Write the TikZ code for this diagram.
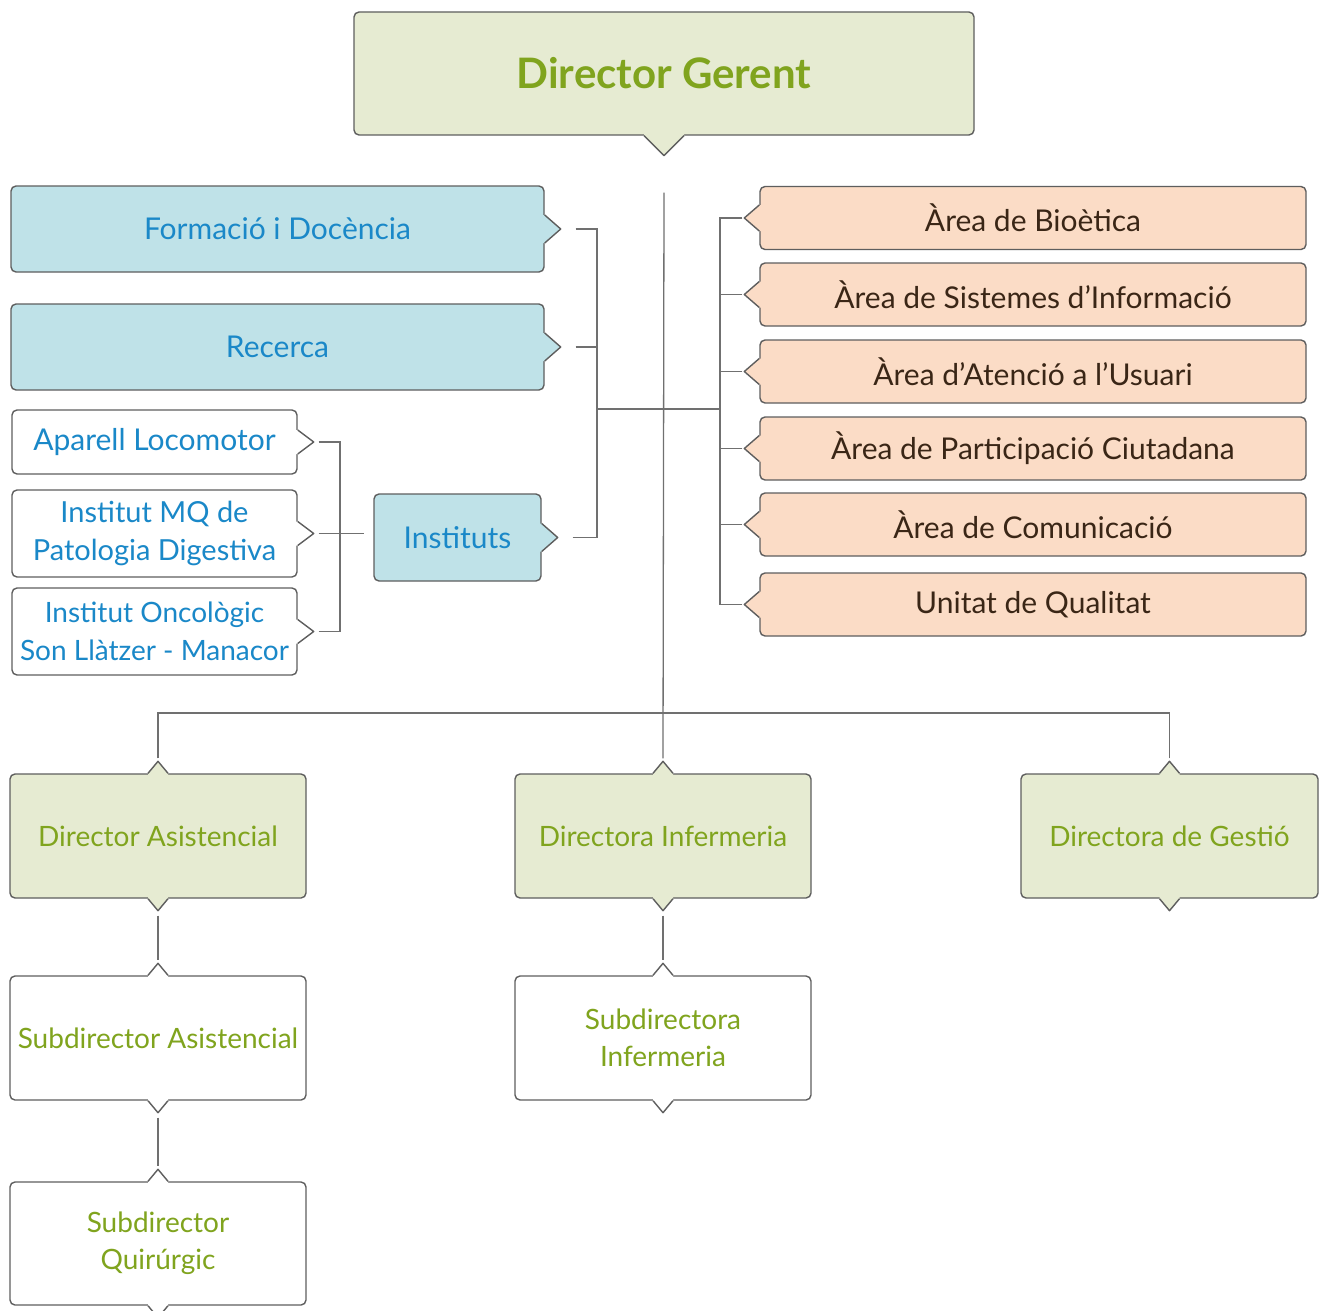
\documentclass[tikz,border=0pt]{standalone}
\usepackage{fontspec}
\setmainfont{Lato}
\usetikzlibrary{calc}
\definecolor{bordercol}{HTML}{5E5E5E}
\definecolor{conncol}{HTML}{707070}
\definecolor{gfill}{HTML}{E6EBD2}
\definecolor{bfill}{HTML}{BFE2E8}
\definecolor{ofill}{HTML}{FBDCC6}
\definecolor{gtext}{HTML}{80A41E}
\definecolor{btext}{HTML}{1A88C8}
\definecolor{otext}{HTML}{3A2616}
\tikzset{
  boxline/.style={draw=bordercol, line width=1.4pt, line join=round},
  orgbox/.style={boxline, rounded corners=5pt, inner sep=0pt, align=center,
    font=\fontsize{30}{38}\selectfont},
  greenbox/.style={orgbox, fill=gfill, text=gtext, font=\fontsize{28}{37}\selectfont},
  bluebox/.style={orgbox, fill=bfill, text=btext},
  orangebox/.style={orgbox, fill=ofill, text=otext, minimum width=546pt, minimum height=63pt},
  whitebox/.style={orgbox, fill=white, text=btext},
  subbox/.style={orgbox, fill=white, text=gtext, font=\fontsize{28}{37}\selectfont},
  conn/.style={draw=conncol, line width=1.3pt},
}
\newcommand{\notchat}[6]{%
  \begin{scope}[shift={(#1)},rotate=#2]
    \fill[#3] (-2.5,-#4) -- (0,-#4) -- (#5,0) -- (0,#4) -- (-2.5,#4) -- cycle;
    \draw[boxline] (0,-#4) -- (#5,0) -- (0,#4);
    \coordinate (#6) at (#5,0);
  \end{scope}}
\begin{document}
\begin{tikzpicture}[x=1pt,y=-1pt]
\useasboundingbox[fill=white] (0,0) rectangle (1323,1311);

% top
\node[greenbox, minimum width=620pt, minimum height=123pt,
  font=\fontsize{42}{46}\selectfont\bfseries] (dg) at (664,73.5) {Director Gerent};
\notchat{dg.south}{270}{gfill}{20}{20}{dgB}

% blue
\node[bluebox, minimum width=533pt, minimum height=86pt] (fd) at (277.5,229) {Formació i Docència};
\notchat{fd.east}{0}{bfill}{14}{16}{fdT}
\node[bluebox, minimum width=533pt, minimum height=86pt] (rec) at (277.5,347) {Recerca};
\notchat{rec.east}{0}{bfill}{14}{16}{recT}
\node[bluebox, minimum width=167pt, minimum height=87pt] (inst) at (457.5,537.5) {Instituts};
\notchat{inst.east}{0}{bfill}{14}{16}{instT}

% white institutes
\node[whitebox, minimum width=285pt, minimum height=64pt] (apl) at (154.5,442) {Aparell Locomotor};
\notchat{apl.east}{0}{white}{12}{16}{aplT}
\node[whitebox, minimum width=285pt, minimum height=87pt, font=\fontsize{29}{38}\selectfont] (mq) at (154.5,533.5) {Institut MQ de\\Patologia Digestiva};
\notchat{mq.east}{0}{white}{12}{16}{mqT}
\node[whitebox, minimum width=285pt, minimum height=87pt, font=\fontsize{28}{38}\selectfont] (onc) at (154.5,631.5) {Institut Oncològic\\Son Llàtzer - Manacor};
\notchat{onc.east}{0}{white}{12}{16}{oncT}

% orange
\node[orangebox] (o1) at (1033,218) {Àrea de Bioètica};
\notchat{o1.west}{180}{ofill}{13}{15}{o1T}
\node[orangebox] (o2) at (1033,294.5) {Àrea de Sistemes d’Informació};
\notchat{o2.west}{180}{ofill}{13}{15}{o2T}
\node[orangebox] (o3) at (1033,371.5) {Àrea d’Atenció a l’Usuari};
\notchat{o3.west}{180}{ofill}{13}{15}{o3T}
\node[orangebox] (o4) at (1033,448.5) {Àrea de Participació Ciutadana};
\notchat{o4.west}{180}{ofill}{13}{15}{o4T}
\node[orangebox] (o5) at (1033,524.5) {Àrea de Comunicació};
\notchat{o5.west}{180}{ofill}{13}{15}{o5T}
\node[orangebox] (o6) at (1033,604.5) {Unitat de Qualitat};
\notchat{o6.west}{180}{ofill}{13}{15}{o6T}

% directors
\node[greenbox, minimum width=296pt, minimum height=124pt] (da) at (158,836) {Director Asistencial};
\notchat{da.north}{90}{gfill}{10}{12}{daU}
\notchat{da.south}{270}{gfill}{10}{12}{daD}
\node[greenbox, minimum width=296pt, minimum height=124pt] (di) at (663,836) {Directora Infermeria};
\notchat{di.north}{90}{gfill}{10}{12}{diU}
\notchat{di.south}{270}{gfill}{10}{12}{diD}
\node[greenbox, minimum width=297pt, minimum height=124pt] (dgs) at (1169.5,836) {Directora de Gestió};
\notchat{dgs.north}{90}{gfill}{10}{12}{dgsU}
\notchat{dgs.south}{270}{gfill}{10}{12}{dgsD}

% sub directors
\node[subbox, minimum width=296pt, minimum height=124pt] (sa) at (158,1038) {Subdirector Asistencial};
\notchat{sa.north}{90}{white}{10}{12}{saU}
\notchat{sa.south}{270}{white}{10}{12}{saD}
\node[subbox, minimum width=296pt, minimum height=124pt] (si) at (663,1038) {Subdirectora\\Infermeria};
\notchat{si.north}{90}{white}{10}{12}{siU}
\notchat{si.south}{270}{white}{10}{12}{siD}
\node[subbox, minimum width=296pt, minimum height=123pt] (sq) at (158,1243.5) {Subdirector\\Quirúrgic};
\notchat{sq.north}{90}{white}{10}{12}{sqU}
\notchat{sq.south}{270}{white}{10}{12}{sqD}

% connectors
\coordinate (trunkTop) at ([yshift=-37pt]dgB);
\coordinate (lbx) at (597,409);
\coordinate (rbx) at (720,409);
\coordinate (ibx) at (340,533);
\coordinate (hb) at (663,713);

\draw[conn] (trunkTop) -- ([yshift=3pt]diU);
\draw[conn] ([xshift=15pt]fdT) -| (lbx);
\draw[conn] ([xshift=15pt]recT) -| (lbx);
\draw[conn] ([xshift=15pt]instT) -| (lbx);
\draw[conn] (lbx) -- (rbx);
\foreach \o in {o1T,o2T,o3T,o4T,o5T,o6T}{
  \draw[conn] ([xshift=-2pt]\o) -| (rbx);
}
\draw[conn] ([xshift=5pt]aplT) -| (ibx);
\draw[conn] ([xshift=5pt]oncT) -| (ibx);
\draw[conn] ([xshift=5pt]mqT) -- ([xshift=-9pt]inst.west |- mqT);
\draw[conn] ([yshift=3pt]daU) |- (hb);
\draw[conn] ([yshift=3pt]dgsU) |- (hb);
\draw[conn] ([yshift=-5pt]daD) -- ([yshift=3pt]saU);
\draw[conn] ([yshift=-5pt]diD) -- ([yshift=3pt]siU);
\draw[conn] ([yshift=-5pt]saD) -- ([yshift=3pt]sqU);
\end{tikzpicture}
\end{document}
